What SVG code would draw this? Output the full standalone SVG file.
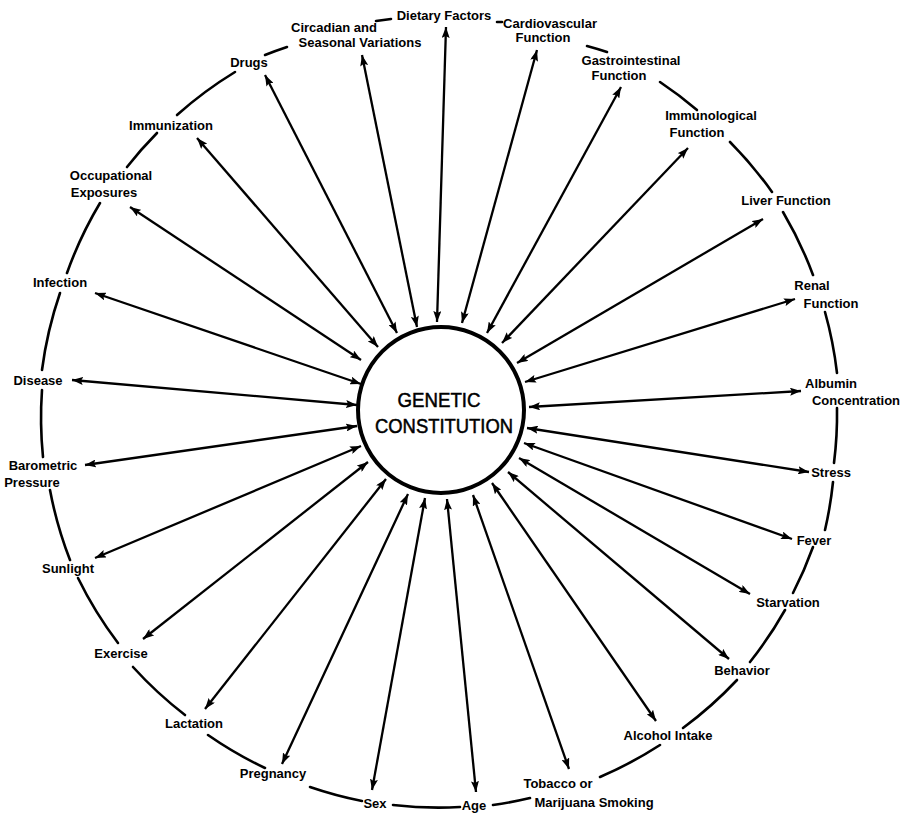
<svg xmlns="http://www.w3.org/2000/svg" width="913" height="817" viewBox="0 0 913 817">
<style>
.lbl{font-family:"Liberation Sans",Arial,sans-serif;font-weight:bold;font-size:13px;fill:#000;text-anchor:middle}
.ctr{font-family:"Liberation Sans",Arial,sans-serif;font-size:20px;fill:#000;stroke:#000;stroke-width:0.5;text-anchor:middle}
.arr{stroke:#000;stroke-width:2.3;fill:none;marker-start:url(#ah);marker-end:url(#ah)}
.ring{stroke:#000;stroke-width:2.6;fill:none;stroke-linecap:round}
</style>
<defs>
<marker id="ah" viewBox="0 0 11 8" refX="11" refY="4" markerWidth="11" markerHeight="8" markerUnits="userSpaceOnUse" orient="auto-start-reverse">
<path d="M0,0 L11,4 L0,8 L2,4 z" fill="#000"/>
</marker>
</defs>
<rect width="913" height="817" fill="#fff"/>
<g id="ring">
<path class="ring" d="M376,21 A399 395 0 0 1 391,19"/>
<path class="ring" d="M497,22 A399 395 0 0 1 502,22"/>
<path class="ring" d="M587,46 A399 395 0 0 1 607,52"/>
<path class="ring" d="M660,82 A399 395 0 0 1 697,110"/>
<path class="ring" d="M730,142 A399 395 0 0 1 772,192"/>
<path class="ring" d="M783,212 A399 395 0 0 1 813,275"/>
<path class="ring" d="M825,312 A399 395 0 0 1 837,373"/>
<path class="ring" d="M837,408 A399 395 0 0 1 834,463"/>
<path class="ring" d="M833,482 A399 395 0 0 1 825,530"/>
<path class="ring" d="M813,547 A399 395 0 0 1 793,593"/>
<path class="ring" d="M785,610 A399 395 0 0 1 750,662"/>
<path class="ring" d="M737,680 A399 395 0 0 1 683,728"/>
<path class="ring" d="M660,745 A399 395 0 0 1 600,777"/>
<path class="ring" d="M530,798 A399 395 0 0 1 493,805"/>
<path class="ring" d="M460,807 A399 395 0 0 1 393,805"/>
<path class="ring" d="M362,801 A399 395 0 0 1 310,787"/>
<path class="ring" d="M265,768 A399 395 0 0 1 208,735"/>
<path class="ring" d="M185,715 A399 395 0 0 1 133,667"/>
<path class="ring" d="M118,643 A399 395 0 0 1 78,578"/>
<path class="ring" d="M70,560 A399 395 0 0 1 50,490"/>
<path class="ring" d="M43,457 A399 395 0 0 1 42,390"/>
<path class="ring" d="M42,370 A399 395 0 0 1 60,293"/>
<path class="ring" d="M67,273 A399 395 0 0 1 100,203"/>
<path class="ring" d="M127,167 A399 395 0 0 1 157,133"/>
<path class="ring" d="M177,115 A399 395 0 0 1 235,72"/>
<path class="ring" d="M265,55 A399 395 0 0 1 287,47"/>
</g>
<g id="connectors">
<line class="arr" x1="265" y1="75" x2="397" y2="333"/>
<line class="arr" x1="362" y1="55" x2="417" y2="327"/>
<line class="arr" x1="446" y1="27" x2="437" y2="322"/>
<line class="arr" x1="537" y1="50" x2="462" y2="323"/>
<line class="arr" x1="621" y1="87" x2="487" y2="333"/>
<line class="arr" x1="688" y1="148" x2="502" y2="343"/>
<line class="arr" x1="763" y1="219" x2="517" y2="363"/>
<line class="arr" x1="795" y1="299" x2="525" y2="382"/>
<line class="arr" x1="801" y1="391" x2="529" y2="407"/>
<line class="arr" x1="809" y1="472" x2="527" y2="428"/>
<line class="arr" x1="792" y1="539" x2="524" y2="443"/>
<line class="arr" x1="750" y1="594" x2="519" y2="458"/>
<line class="arr" x1="729" y1="659" x2="508" y2="472"/>
<line class="arr" x1="656" y1="721" x2="492" y2="483"/>
<line class="arr" x1="569" y1="769" x2="473" y2="495"/>
<line class="arr" x1="476" y1="792" x2="447" y2="499"/>
<line class="arr" x1="372" y1="790" x2="425" y2="498"/>
<line class="arr" x1="282" y1="764" x2="408" y2="494"/>
<line class="arr" x1="205" y1="709" x2="386" y2="479"/>
<line class="arr" x1="143" y1="639" x2="368" y2="462"/>
<line class="arr" x1="95" y1="558" x2="361" y2="446"/>
<line class="arr" x1="85" y1="465" x2="357" y2="426"/>
<line class="arr" x1="72" y1="380" x2="357" y2="405"/>
<line class="arr" x1="95" y1="293" x2="361" y2="384"/>
<line class="arr" x1="130" y1="207" x2="361" y2="360"/>
<line class="arr" x1="197" y1="138" x2="378" y2="347"/>
</g>
<g id="genetic-constitution">
<circle cx="441" cy="410" r="83" fill="#fff" stroke="#000" stroke-width="4"/>
<text class="ctr" x="439" y="407" textLength="83" lengthAdjust="spacingAndGlyphs">GENETIC</text>
<text class="ctr" x="444" y="433" textLength="138" lengthAdjust="spacingAndGlyphs">CONSTITUTION</text>
</g>
<g id="drugs"><text class="lbl" x="249" y="67">Drugs</text></g>
<g id="circadian"><text class="lbl" x="334" y="32">Circadian and</text><text class="lbl" x="360" y="47">Seasonal Variations</text></g>
<g id="dietary"><text class="lbl" x="444" y="20">Dietary Factors</text></g>
<g id="cardiovascular"><text class="lbl" x="550" y="28">Cardiovascular</text><text class="lbl" x="543" y="42">Function</text></g>
<g id="gastrointestinal"><text class="lbl" x="631" y="65">Gastrointestinal</text><text class="lbl" x="619" y="80">Function</text></g>
<g id="immunological"><text class="lbl" x="711" y="120">Immunological</text><text class="lbl" x="697" y="137">Function</text></g>
<g id="liver"><text class="lbl" x="786" y="205">Liver Function</text></g>
<g id="renal"><text class="lbl" x="812" y="290">Renal</text><text class="lbl" x="831" y="308">Function</text></g>
<g id="albumin"><text class="lbl" x="831" y="388">Albumin</text><text class="lbl" x="856" y="405">Concentration</text></g>
<g id="stress"><text class="lbl" x="831" y="477">Stress</text></g>
<g id="fever"><text class="lbl" x="814" y="545">Fever</text></g>
<g id="starvation"><text class="lbl" x="788" y="607">Starvation</text></g>
<g id="behavior"><text class="lbl" x="742" y="675">Behavior</text></g>
<g id="alcohol"><text class="lbl" x="668" y="740">Alcohol Intake</text></g>
<g id="tobacco"><text class="lbl" x="558" y="788">Tobacco or</text><text class="lbl" x="594" y="807">Marijuana Smoking</text></g>
<g id="age"><text class="lbl" x="474" y="810">Age</text></g>
<g id="sex"><text class="lbl" x="375" y="808">Sex</text></g>
<g id="pregnancy"><text class="lbl" x="273" y="778">Pregnancy</text></g>
<g id="lactation"><text class="lbl" x="194" y="728">Lactation</text></g>
<g id="exercise"><text class="lbl" x="121" y="658">Exercise</text></g>
<g id="sunlight"><text class="lbl" x="68" y="573">Sunlight</text></g>
<g id="barometric"><text class="lbl" x="43" y="470">Barometric</text><text class="lbl" x="32" y="487">Pressure</text></g>
<g id="disease"><text class="lbl" x="38" y="385">Disease</text></g>
<g id="infection"><text class="lbl" x="60" y="287">Infection</text></g>
<g id="occupational"><text class="lbl" x="111" y="180">Occupational</text><text class="lbl" x="104" y="197">Exposures</text></g>
<g id="immunization"><text class="lbl" x="171" y="130">Immunization</text></g>
</svg>
